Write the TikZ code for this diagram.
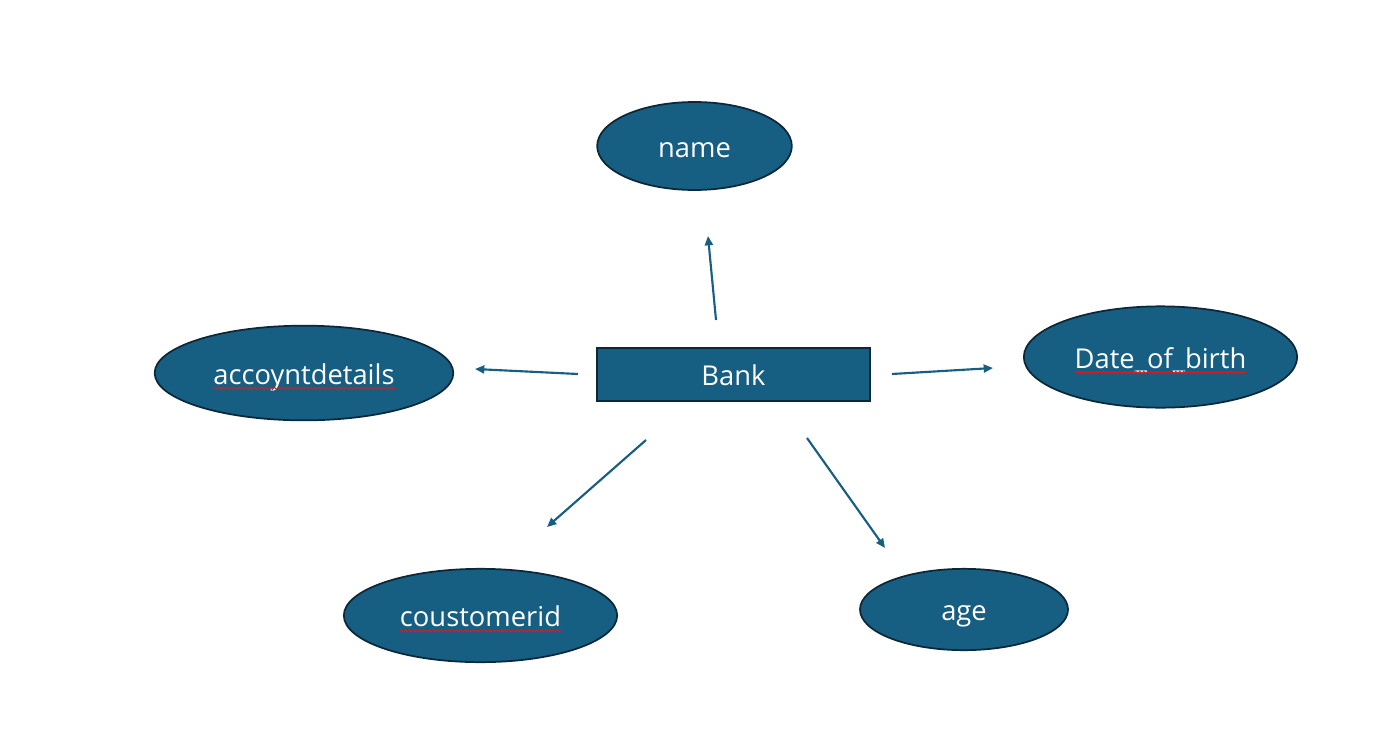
\documentclass[tikz,border=0pt]{standalone}
\usepackage{fontspec}
\setmainfont{Open Sans}
\usetikzlibrary{shapes.geometric,arrows.meta,decorations.pathmorphing}
\definecolor{bankfill}{RGB}{22,94,130}
\definecolor{bankline}{RGB}{12,40,56}
\definecolor{squigred}{RGB}{225,25,25}
\tikzset{
  attr/.style={ellipse,draw=bankline,line width=1.3pt,fill=bankfill,inner sep=0pt},
  entity/.style={rectangle,draw=bankline,line width=1.5pt,fill=bankfill,inner sep=0pt},
  txt/.style={text=white,font=\fontsize{20.5}{24}\selectfont,inner sep=0pt,text height=19pt,text depth=2pt},
  conn/.style={draw=bankfill,line width=1.6pt,-{Triangle[length=7pt,width=6pt]}},
  squig/.style={draw=squigred,line width=0.75pt,decorate,decoration={snake,amplitude=0.8pt,segment length=3pt}}
}
\begin{document}
\begin{tikzpicture}[x=0.75pt,y=-0.75pt]
\useasboundingbox (0,0) rectangle (1399,739);
% nodes
\node[entity,minimum width=205pt,minimum height=40pt] (bank) at (733.5,374.5) {};
\node[txt] (bankt) at (bank) {Bank};
\node[attr,minimum width=146pt,minimum height=66pt] (name) at (694.5,146) {};
\node[txt] (namet) at (name) {name};
\node[attr,minimum width=205pt,minimum height=76pt] (dob) at (1160.5,357) {};
\node[txt] (dobt) at (dob) {Date\_of\_birth};
\node[attr,minimum width=224pt,minimum height=71pt] (acc) at (304,373) {};
\node[txt] (acct) at (acc) {accoyntdetails};
\node[attr,minimum width=205pt,minimum height=70pt] (cus) at (480.5,615.5) {};
\node[txt] (cust) at (cus) {coustomerid};
\node[attr,minimum width=156pt,minimum height=61pt] (age) at (964,609.5) {};
\node[txt] (aget) at (age) {age};
% squiggles
\draw[squig] ([yshift=-3pt]dobt.base west) -- ([yshift=-3pt]dobt.base east);
\draw[squig] ([yshift=-3pt]acct.base west) -- ([yshift=-3pt]acct.base east);
\draw[squig] ([yshift=-3pt]cust.base west) -- ([yshift=-3pt]cust.base east);
% connector endpoints
\coordinate (s1) at (716,320); \coordinate (e1) at (708,236);
\coordinate (s2) at (892,374); \coordinate (e2) at (993,368);
\coordinate (s3) at (578,374); \coordinate (e3) at (475,369);
\coordinate (s4) at (646,440); \coordinate (e4) at (547,527);
\coordinate (s5) at (807,438); \coordinate (e5) at (885,548);
\draw[conn] (s1) -- (e1);
\draw[conn] (s2) -- (e2);
\draw[conn] (s3) -- (e3);
\draw[conn] (s4) -- (e4);
\draw[conn] (s5) -- (e5);
\end{tikzpicture}
\end{document}
